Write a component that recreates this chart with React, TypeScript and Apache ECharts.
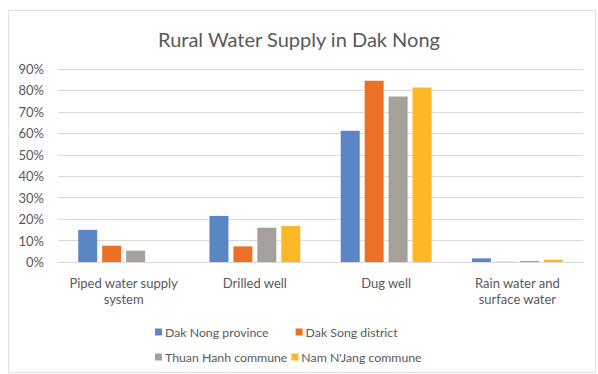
import React, { useEffect, useRef } from "react";
import * as echarts from "echarts";

const categories = [
  "Piped water supply\nsystem",
  "Drilled well",
  "Dug well",
  "Rain water and\nsurface water",
];
const seriesNames = [
  "Dak Nong province",
  "Dak Song district",
  "Thuan Hanh commune",
  "Nam N'Jang commune",
];
const dakNongProvince = [15, 21.5, 61.2, 1.7];
const dakSongDistrict = [7.6, 7.3, 84.5, 0.1];
const thuanHanhCommune = [5.3, 16, 77.2, 0.5];
const namNJangCommune = [0, 16.8, 81.4, 1.1];
const yTicks = [0, 10, 20, 30, 40, 50, 60, 70, 80, 90];

const colors = ["#5b86c5", "#ed7125", "#a5a09b", "#fdb827"];
const values = [dakNongProvince, dakSongDistrict, thuanHanhCommune, namNJangCommune];
const FONT = "Lato";
const TEXT = "#595959";

export default function App() {
  const ref = useRef<HTMLDivElement>(null);
  useEffect(() => {
    if (!ref.current) return;
    const chart = echarts.init(ref.current, undefined, { renderer: "svg" });
    const legendText = { fontFamily: FONT, fontSize: 12.3, color: TEXT, padding: [0, 0, 0, -2] };
    chart.setOption({
      animation: false,
      backgroundColor: "#ffffff",
      title: {
        text: "Rural Water Supply in Dak Nong",
        left: "center",
        top: 24,
        textStyle: { fontFamily: FONT, fontSize: 20, fontWeight: "normal", color: TEXT },
      },
      graphic: [
        {
          type: "rect",
          shape: { x: 8.5, y: 10.5, width: 587, height: 362 },
          style: { fill: "none", stroke: "#e2e2e2", lineWidth: 1 },
          silent: true,
        },
      ],
      legend: [
        {
          data: seriesNames.slice(0, 2),
          left: 150,
          top: 321,
          itemWidth: 7,
          itemHeight: 7,
          itemGap: 27,
          icon: "rect",
          textStyle: legendText,
        },
        {
          data: seriesNames.slice(2, 4),
          left: 150,
          top: 346,
          itemWidth: 7,
          itemHeight: 7,
          itemGap: 4,
          icon: "rect",
          textStyle: legendText,
        },
      ],
      grid: { left: 58, right: 15, top: 69, bottom: 112, containLabel: false },
      xAxis: {
        type: "category",
        data: categories,
        axisTick: { show: false },
        axisLine: { lineStyle: { color: "#d9d9d9" } },
        axisLabel: {
          fontFamily: FONT,
          fontSize: 13,
          color: TEXT,
          margin: 13,
          lineHeight: 16,
          interval: 0,
        },
      },
      yAxis: {
        type: "value",
        min: 0,
        max: 90,
        interval: 10,
        axisLine: { show: false },
        axisTick: { show: false },
        splitLine: { lineStyle: { color: "#d9d9d9" } },
        axisLabel: {
          fontFamily: FONT,
          fontSize: 13,
          color: TEXT,
          margin: 14,
          formatter: (v: number) => (yTicks.includes(v) ? `${v}%` : ""),
        },
      },
      series: seriesNames.map((name, i) => ({
        name,
        type: "bar",
        data: values[i],
        barWidth: 19,
        barGap: "26%",
        itemStyle: { color: colors[i] },
      })),
    });
    return () => chart.dispose();
  }, []);
  return (
    <div
      ref={ref}
      style={{ position: "fixed", left: 0, top: 0, width: 598, height: 374 }}
    />
  );
}
